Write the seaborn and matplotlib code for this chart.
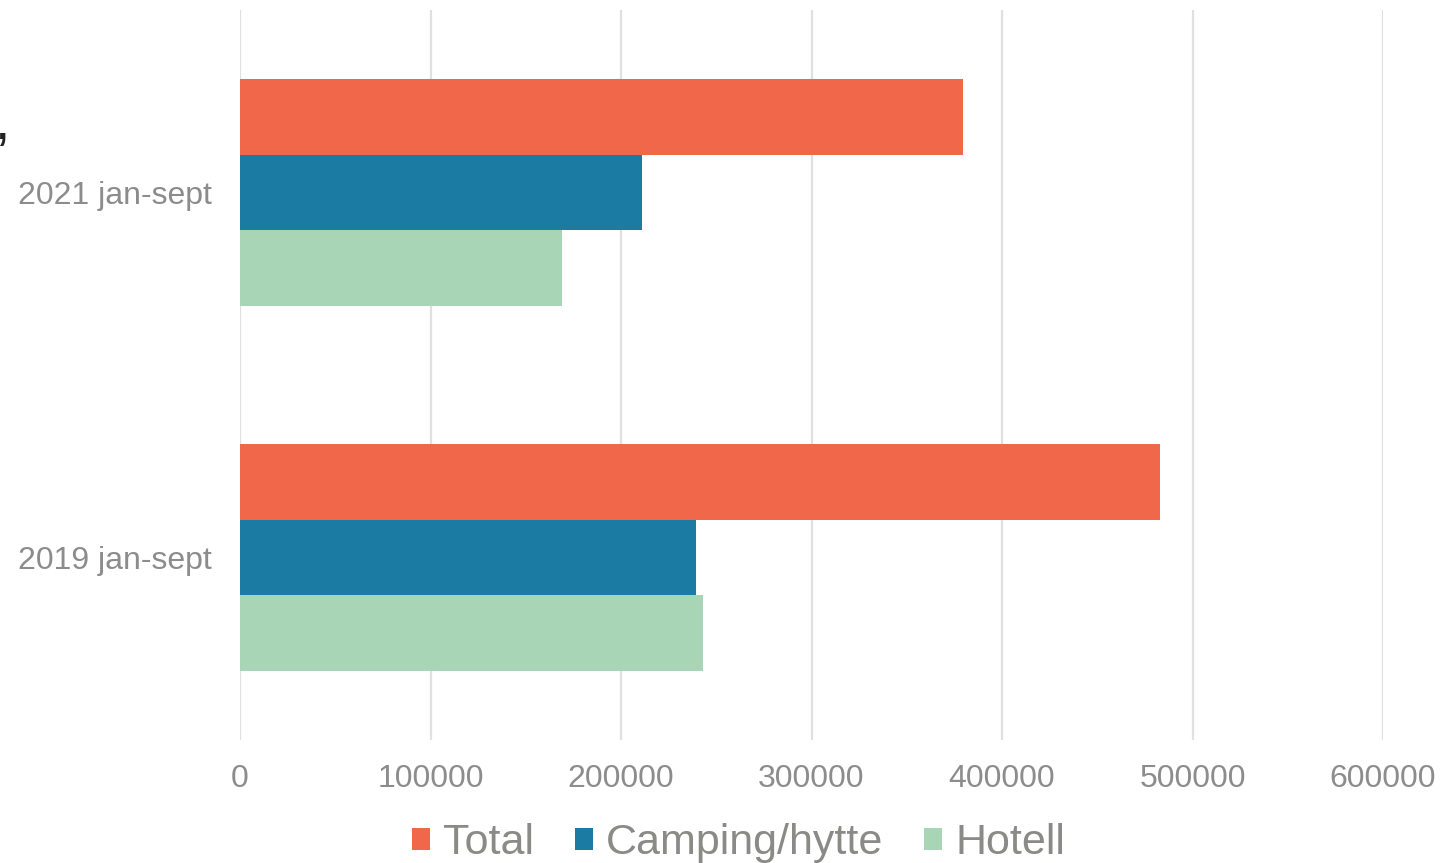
import matplotlib
matplotlib.use("Agg")
import matplotlib.pyplot as plt
import seaborn as sns
import pandas as pd
from matplotlib.patches import Patch

periods = ["2021 jan-sept", "2019 jan-sept"]
series = ["Total", "Camping/hytte", "Hotell"]
total = [379500, 482800]
camping = [211000, 239400]
hotell = [168900, 243000]
x_ticks = [0, 100000, 200000, 300000, 400000, 500000, 600000]
colors = ["#F1674A", "#1C7BA2", "#A8D5B5"]

rows = []
for name, vals in zip(series, [total, camping, hotell]):
    for p, v in zip(periods, vals):
        rows.append({"Periode": p, "Serie": name, "Antall": v})
df = pd.DataFrame(rows)

sns.set_theme(style="white")
plt.rcParams["font.family"] = ["Liberation Sans", "DejaVu Sans"]

fig = plt.figure(figsize=(14.54, 8.63), dpi=100)
ax = fig.add_axes([240 / 1454, 1 - 740 / 863, (1383 - 240) / 1454, (740 - 10) / 863])

sns.barplot(data=df, y="Periode", x="Antall", hue="Serie", order=periods,
            hue_order=series, palette=colors, orient="h", width=0.62,
            linewidth=0, saturation=1, ax=ax, legend=False)

ax.set_xlim(0, 600000)
ax.set_ylim(1.5, -0.5)
ax.set_xticks(x_ticks)
ax.set_xticklabels([str(t) for t in x_ticks])
ax.set_xlabel("")
ax.set_ylabel("")
for s in ax.spines.values():
    s.set_visible(False)
ax.set_axisbelow(True)
ax.grid(axis="x", color="#E0E0E0", linewidth=1.6)
ax.grid(axis="y", visible=False)
ax.tick_params(axis="x", length=0, pad=17, labelsize=23, labelcolor="#8C8C8C")
ax.tick_params(axis="y", length=0, pad=20, labelsize=23, labelcolor="#8C8C8C")

handles = [Patch(facecolor=c, edgecolor="none", label=n) for c, n in zip(colors, series)]
fig.legend(handles=handles, loc="lower center", bbox_to_anchor=(0.508, -0.02),
           ncol=3, frameon=False, fontsize=31, labelcolor="#8A8A86",
           handlelength=0.42, handleheight=0.42, handletextpad=0.3,
           columnspacing=0.95, borderaxespad=0)

fig.text(-0.004, 0.855, ",", fontsize=40, color="#222222", ha="left", va="center")

fig.savefig("out.png", dpi=100)
